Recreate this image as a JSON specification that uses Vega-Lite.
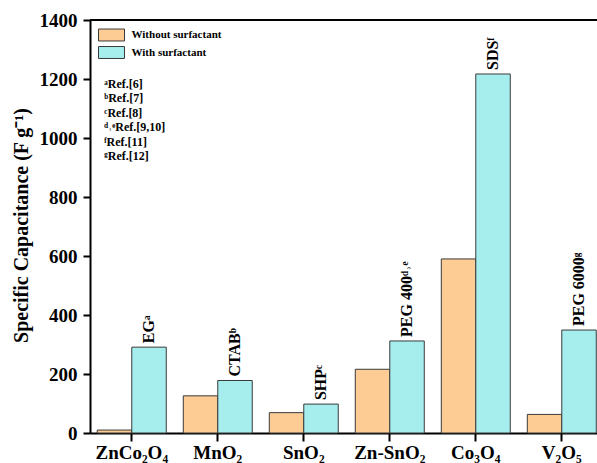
{
  "$schema": "https://vega.github.io/schema/vega-lite/v6.json",
  "width": 507,
  "height": 413,
  "autosize": {"type": "none"},
  "padding": {"left": 90, "top": 20, "right": 0, "bottom": 30},
  "background": "white",
  "config": {"view": {"stroke": null}, "font": "Liberation Serif"},
  "datasets": {
    "bars": [
      {"material": "ZnCo₂O₄", "type": "Without surfactant", "value": 10, "label": ""},
      {"material": "ZnCo₂O₄", "type": "With surfactant", "value": 291, "label": "EGᵃ"},
      {"material": "MnO₂", "type": "Without surfactant", "value": 126, "label": ""},
      {"material": "MnO₂", "type": "With surfactant", "value": 178, "label": "CTABᵇ"},
      {"material": "SnO₂", "type": "Without surfactant", "value": 69, "label": ""},
      {"material": "SnO₂", "type": "With surfactant", "value": 98, "label": "SHPᶜ"},
      {"material": "Zn-SnO₂", "type": "Without surfactant", "value": 216, "label": ""},
      {"material": "Zn-SnO₂", "type": "With surfactant", "value": 312, "label": "PEG 400ᵈ˒ᵉ"},
      {"material": "Co₃O₄", "type": "Without surfactant", "value": 590, "label": ""},
      {"material": "Co₃O₄", "type": "With surfactant", "value": 1217, "label": "SDSᶠ"},
      {"material": "V₂O₅", "type": "Without surfactant", "value": 63, "label": ""},
      {"material": "V₂O₅", "type": "With surfactant", "value": 349, "label": "PEG 6000ᵍ"}
    ],
    "refs": [
      {"lines": ["ᵃRef.[6]", "ᵇRef.[7]", "ᶜRef.[8]", "ᵈ˒ᵉRef.[9,10]", "ᶠRef.[11]", "ᵍRef.[12]"]}
    ]
  },
  "layer": [
    {
      "data": {"name": "bars"},
      "mark": {"type": "bar", "stroke": "#3a3a3a", "strokeWidth": 1},
      "encoding": {
        "x": {
          "field": "material", "type": "nominal",
          "sort": ["ZnCo₂O₄", "MnO₂", "SnO₂", "Zn-SnO₂", "Co₃O₄", "V₂O₅"],
          "scale": {"paddingInner": 0.198, "paddingOuter": 0.0465, "align": 0.91},
          "title": null,
          "axis": {
            "labelAngle": 0, "labelFontSize": 19, "labelFontWeight": "bold", "labelColor": "black",
            "labelFont": "Liberation Serif", "labelPadding": 2,
            "tickSize": 8, "tickWidth": 2, "tickColor": "black",
            "domainColor": "black", "domainWidth": 2, "grid": false
          }
        },
        "xOffset": {"field": "type", "type": "nominal", "sort": ["Without surfactant", "With surfactant"], "scale": {"paddingInner": 0, "paddingOuter": 0}},
        "y": {
          "field": "value", "type": "quantitative",
          "scale": {"domain": [0, 1400], "nice": false},
          "axis": {
            "values": [0, 100, 200, 300, 400, 500, 600, 700, 800, 900, 1000, 1100, 1200, 1300, 1400],
            "labelExpr": "datum.value % 200 === 0 ? datum.label : ''",
            "format": "d",
            "tickSize": {"condition": {"test": "datum.value % 200 === 0", "value": 7}, "value": 4},
            "tickWidth": 2, "tickColor": "black",
            "domainColor": "black", "domainWidth": 2, "grid": false,
            "labelFontSize": 19, "labelFontWeight": "bold", "labelColor": "black", "labelFont": "Liberation Serif",
            "labelPadding": 6,
            "title": "Specific Capacitance (F g⁻¹)",
            "titleFontSize": 20, "titleFontWeight": "bold", "titleFont": "Liberation Serif", "titleColor": "black",
            "titleX": -69, "titleY": 205, "titleBaseline": "middle"
          }
        },
        "color": {
          "field": "type", "type": "nominal",
          "sort": ["Without surfactant", "With surfactant"],
          "scale": {"range": ["#fdcc95", "#a6eeee"]},
          "legend": {
            "orient": "none", "legendX": 14.5, "legendY": 8, "title": null, "padding": 0,
            "symbolType": "M-2,-0.92H2V0.92H-2Z", "symbolSize": 169,
            "symbolStrokeColor": "#3a3a3a", "symbolStrokeWidth": 1, "symbolOpacity": 1,
            "labelFontSize": 11, "labelFontWeight": "bold", "labelFont": "Liberation Serif", "labelColor": "black",
            "labelOffset": 13, "rowPadding": 1.5
          }
        }
      }
    },
    {
      "data": {"name": "bars"},
      "transform": [{"filter": "datum.label != ''"}],
      "mark": {"type": "text", "angle": 270, "align": "left", "baseline": "middle", "dx": 4, "fontWeight": "bold", "fontSize": 16, "font": "Liberation Serif", "color": "black"},
      "encoding": {
        "x": {"field": "material", "type": "nominal", "sort": ["ZnCo₂O₄", "MnO₂", "SnO₂", "Zn-SnO₂", "Co₃O₄", "V₂O₅"]},
        "xOffset": {"field": "type", "type": "nominal", "sort": ["Without surfactant", "With surfactant"]},
        "y": {"field": "value", "type": "quantitative"},
        "text": {"field": "label"}
      }
    },
    {
      "data": {"name": "refs"},
      "mark": {"type": "text", "align": "left", "baseline": "top", "dx": 7, "lineHeight": 14.4, "fontSize": 12, "fontWeight": "bold", "font": "Liberation Serif", "color": "black"},
      "encoding": {
        "x": {"datum": "ZnCo₂O₄", "type": "nominal", "bandPosition": 0},
        "y": {"datum": 1200, "type": "quantitative"},
        "text": {"field": "lines"}
      }
    },
    {
      "data": {"values": [{}]},
      "mark": {"type": "rule", "strokeWidth": 2, "color": "black"},
      "encoding": {"y": {"datum": 1400, "type": "quantitative"}}
    }
  ]
}
